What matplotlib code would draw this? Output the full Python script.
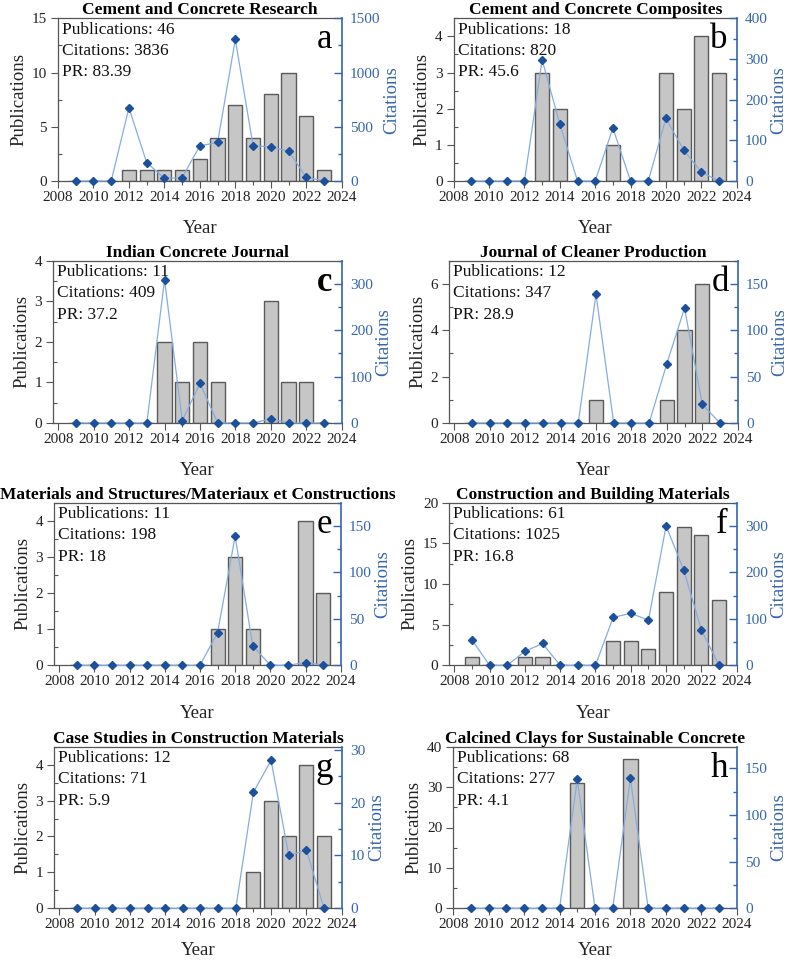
import matplotlib
matplotlib.use("Agg")
import matplotlib.pyplot as plt
from matplotlib.ticker import MultipleLocator

plt.rcParams['font.family'] = ['Liberation Serif', 'DejaVu Serif']

years = list(range(2009, 2024))

titles = ["Cement and Concrete Research", "Cement and Concrete Composites",
          "Indian Concrete Journal", "Journal of Cleaner Production",
          "Materials and Structures/Materiaux et Constructions",
          "Construction and Building Materials",
          "Case Studies in Construction Materials",
          "Calcined Clays for Sustainable Concrete"]
letters = ["a", "b", "c", "d", "e", "f", "g", "h"]
pub_totals = [46, 18, 11, 12, 11, 61, 12, 68]
cite_totals = [3836, 820, 409, 347, 198, 1025, 71, 277]
pr_values = ["83.39", "45.6", "37.2", "28.9", "18", "16.8", "5.9", "4.1"]

pubs_a = [0, 0, 0, 1, 1, 1, 1, 2, 4, 7, 4, 8, 10, 6, 1]
cites_a = [0, 0, 0, 675, 170, 25, 30, 325, 355, 1305, 325, 315, 275, 35, 1]
pubs_b = [0, 0, 0, 0, 3, 2, 0, 0, 1, 0, 0, 3, 2, 4, 3]
cites_b = [0, 0, 0, 0, 298, 140, 0, 0, 130, 0, 0, 154, 76, 22, 0]
pubs_c = [0, 0, 0, 0, 0, 2, 1, 2, 1, 0, 0, 3, 1, 1, 0]
cites_c = [0, 0, 0, 0, 0, 309, 5, 86, 0, 0, 0, 9, 0, 0, 0]
pubs_d = [0, 0, 0, 0, 0, 0, 0, 1, 0, 0, 0, 1, 4, 6, 0]
cites_d = [0, 0, 0, 0, 0, 0, 0, 139, 0, 0, 0, 64, 124, 20, 0]
pubs_e = [0, 0, 0, 0, 0, 0, 0, 0, 1, 3, 1, 0, 0, 4, 2]
cites_e = [0, 0, 0, 0, 0, 0, 0, 0, 35, 139, 21, 0, 0, 3, 0]
pubs_f = [1, 0, 0, 1, 1, 0, 0, 0, 3, 3, 2, 9, 17, 16, 8]
cites_f = [55, 0, 0, 30, 47, 0, 0, 0, 103, 112, 97, 300, 205, 76, 0]
pubs_g = [0, 0, 0, 0, 0, 0, 0, 0, 0, 0, 1, 3, 2, 4, 2]
cites_g = [0, 0, 0, 0, 0, 0, 0, 0, 0, 0, 22, 28, 10, 11, 0]
pubs_h = [0, 0, 0, 0, 0, 0, 31, 0, 0, 37, 0, 0, 0, 0, 0]
cites_h = [0, 0, 0, 0, 0, 0, 138, 0, 0, 139, 0, 0, 0, 0, 0]

pubs_all = [pubs_a, pubs_b, pubs_c, pubs_d, pubs_e, pubs_f, pubs_g, pubs_h]
cites_all = [cites_a, cites_b, cites_c, cites_d, cites_e, cites_f, cites_g, cites_h]

# axis settings: (left max, left major, left minor, right max, right major, right minor, xmin)
axis_cfg = [
    (15, 5, 2.5, 1500, 500, 250, 2008.0),
    (4.5, 1, 0.5, 400, 100, 50, 2008.0),
    (4, 1, 0.5, 350, 100, 50, 2007.72),
    (7, 2, 1, 175, 50, 25, 2007.72),
    (4.5, 1, 0.5, 175, 50, 25, 2007.72),
    (20, 5, 2.5, 350, 100, 50, 2007.72),
    (4.5, 1, 0.5, 30.6, 10, 5, 2007.72),
    (40, 10, 5, 173, 50, 25, 2008.0),
]

# axes pixel boxes: (left, top, right, bottom)
boxes = [
    (58.0, 18.3, 341.7, 181.0), (453.7, 18.3, 736.7, 181.0),
    (53.3, 260.7, 341.7, 423.0), (449.3, 260.7, 737.7, 423.0),
    (54.3, 502.7, 340.7, 665.3), (449.3, 502.7, 736.7, 665.3),
    (54.3, 746.7, 341.7, 908.3), (453.3, 746.7, 736.7, 908.3),
]

W, H = 789, 961
fig = plt.figure(figsize=(W / 100, H / 100), dpi=100)

blue_axis = '#3566ad'
blue_line = '#86ade0'
blue_mark = '#1c4f9c'
dark = '#222222'
bar_face = '#c6c6c6'
bar_edge = '#5a5a5a'

for i in range(8):
    l, t, r, b = boxes[i]
    ax = fig.add_axes([l / W, 1 - b / H, (r - l) / W, (b - t) / H])
    lmax, lmaj, lmin, rmax, rmaj, rmin, xmin = axis_cfg[i]
    ax.bar(years, pubs_all[i], width=0.8, color=bar_face, edgecolor=bar_edge,
           linewidth=1.0, zorder=2)
    ax.set_xlim(xmin, 2024)
    ax.set_ylim(0, lmax)
    ax.xaxis.set_minor_locator(MultipleLocator(1))
    ax.set_xticks([2008, 2010, 2012, 2014, 2016, 2018, 2020, 2022, 2024])
    ax.yaxis.set_major_locator(MultipleLocator(lmaj))
    ax.yaxis.set_minor_locator(MultipleLocator(lmin))
    ax.tick_params(axis='x', which='major', direction='out', length=5, width=0.8,
                   colors='#555555', labelcolor=dark, labelsize=11, pad=2)
    ax.tick_params(axis='x', which='minor', direction='out', length=3, width=0.8,
                   colors='#555555')
    ax.tick_params(axis='y', which='major', direction='out', length=5, width=0.8,
                   colors='#555555', labelcolor=dark, labelsize=11, pad=3)
    ax.tick_params(axis='y', which='minor', direction='in', length=3, width=0.8,
                   colors='#555555')
    for s in ['left', 'bottom', 'top']:
        ax.spines[s].set_color('#555555')
        ax.spines[s].set_linewidth(0.9)
    ax.spines['right'].set_visible(False)
    ax.set_xlabel("Year", fontsize=13.5, color=dark, labelpad=12 if i < 6 else 8)
    ax.set_ylabel("Publications", fontsize=13.5, color=dark, labelpad=3)
    ax.set_title(titles[i], fontsize=12.5, fontweight='bold', color='black', pad=3)

    ax2 = ax.twinx()
    ax2.plot(years, cites_all[i], color=blue_line, linewidth=0.9, marker='D',
             markersize=4, markerfacecolor=blue_mark, markeredgecolor=blue_mark,
             zorder=3, clip_on=False)
    ax2.set_ylim(0, rmax)
    ax2.yaxis.set_major_locator(MultipleLocator(rmaj))
    ax2.yaxis.set_minor_locator(MultipleLocator(rmin))
    ax2.tick_params(axis='y', which='major', direction='in', length=6, width=1.0,
                    colors=blue_axis, labelcolor=blue_axis, labelsize=11, pad=6)
    ax2.tick_params(axis='y', which='minor', direction='in', length=3, width=1.0,
                    colors=blue_axis)
    for s in ['left', 'bottom', 'top']:
        ax2.spines[s].set_visible(False)
    ax2.spines['right'].set_color(blue_axis)
    ax2.spines['right'].set_linewidth(1.2)
    ax2.set_ylabel("Citations", fontsize=13.5, color=blue_axis, labelpad=2)

    stats = [f"Publications: {pub_totals[i]}", f"Citations: {cite_totals[i]}",
             f"PR: {pr_values[i]}"]
    for k, s in enumerate(stats):
        ax2.annotate(s, xy=(0, 1), xycoords='axes fraction',
                     xytext=(3.0, -(15.3 + 21.3 * k) * 0.72), textcoords='offset points',
                     ha='left', va='baseline', fontsize=12.5, color='#111111')
    ax2.annotate(letters[i], xy=(1, 1), xycoords='axes fraction',
                 xytext=(-9 * 0.72, -30 * 0.72), textcoords='offset points',
                 ha='right', va='baseline', fontsize=25, color='black',
                 fontweight='bold' if letters[i] == 'c' else 'normal')

fig.savefig("out.png", dpi=100)
